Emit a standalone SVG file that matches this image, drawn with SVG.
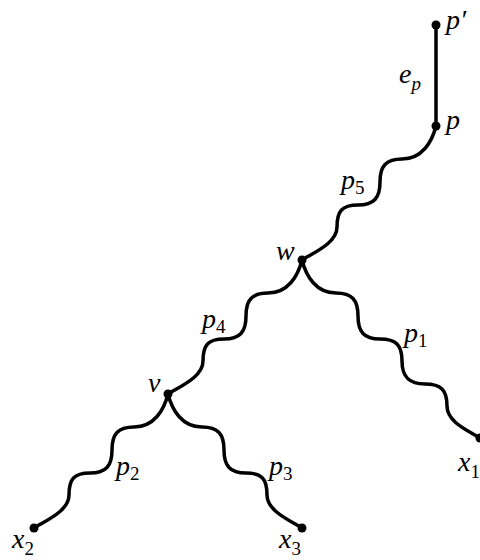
<svg xmlns="http://www.w3.org/2000/svg" width="480" height="560" viewBox="0 0 480 560">
<style>
.e{fill:none;stroke:#000;stroke-width:3.5;stroke-linecap:round;stroke-linejoin:round}
.d{fill:#000}
text{fill:#000;font-family:"Liberation Serif","Times New Roman",serif}
.t{font-style:italic;font-size:28px}
.s{font-style:normal;font-size:19px}
.si{font-style:italic;font-size:19px}
</style>
<rect width="480" height="560" fill="#fff"/>
<g id="connectors">
<path id="ep" class="e" d="M436,25 L436,126"/>
<path id="p5" class="e" d="M436,126 c-4,16 -14,33 -34,33 c-16,0 -22,7 -22,23 c0,16 -6,23 -22,23 c-16,0 -21,6 -21,22 c0,16 -23,25.5 -35,33"/>
<path id="p4" class="e" d="M302,260 c-4,16 -14,33 -34,33 c-16,0 -22,7 -22,23 c0,16 -6,23 -22,23 c-16,0 -21,6 -21,22 c0,16 -23,25.5 -35,33"/>
<path id="p2" class="e" d="M168,394 c-4,16 -14,33 -34,33 c-16,0 -22,7 -22,23 c0,16 -6,23 -22,23 c-16,0 -21,6 -21,22 c0,16 -23,25.5 -35,33"/>
<path id="p3" class="e" d="M168,394 c4,16 14,33 34,33 c16,0 22,7 22,23 c0,16 6,23 22,23 c16,0 21,6 21,22 c0,16 23,25.5 35,33"/>
<path id="p1" class="e" d="M302,260 c4,16 14,33 34,33 c16,0 22,7 22,23 c0,16 6,23 22,23 c16,0 22,6 22,22 c0,16 7,23 23,23 c16,0 22,6 22,22 c0,16 21,24.5 33,32"/>
</g>
<g id="labels">
<text class="t" x="399" y="83">e<tspan class="si" dy="7">p</tspan></text>
<text class="t" x="341" y="189">p<tspan class="s" dy="5">5</tspan></text>
<text class="t" x="202" y="328">p<tspan class="s" dy="5">4</tspan></text>
<text class="t" x="404" y="342">p<tspan class="s" dy="5">1</tspan></text>
<text class="t" x="116" y="475">p<tspan class="s" dy="5">2</tspan></text>
<text class="t" x="269" y="475">p<tspan class="s" dy="5">3</tspan></text>
</g>
<g id="node-pprime"><circle class="d" cx="436" cy="25" r="4.5"/><text class="t" x="446" y="29">p′</text></g>
<g id="node-p"><circle class="d" cx="436" cy="126" r="4.5"/><text class="t" x="446" y="129">p</text></g>
<g id="node-w"><circle class="d" cx="302" cy="260" r="4.5"/><text class="t" x="276" y="260">w</text></g>
<g id="node-v"><circle class="d" cx="168" cy="394" r="4.5"/><text class="t" x="148" y="392">v</text></g>
<g id="node-x1"><circle class="d" cx="480" cy="438" r="4.5"/><text class="t" x="458" y="471">x<tspan class="s" dy="7">1</tspan></text></g>
<g id="node-x2"><circle class="d" cx="34" cy="528" r="4.5"/><text class="t" x="12" y="548">x<tspan class="s" dy="7">2</tspan></text></g>
<g id="node-x3"><circle class="d" cx="302" cy="528" r="4.5"/><text class="t" x="279" y="548">x<tspan class="s" dy="7">3</tspan></text></g>
</svg>
